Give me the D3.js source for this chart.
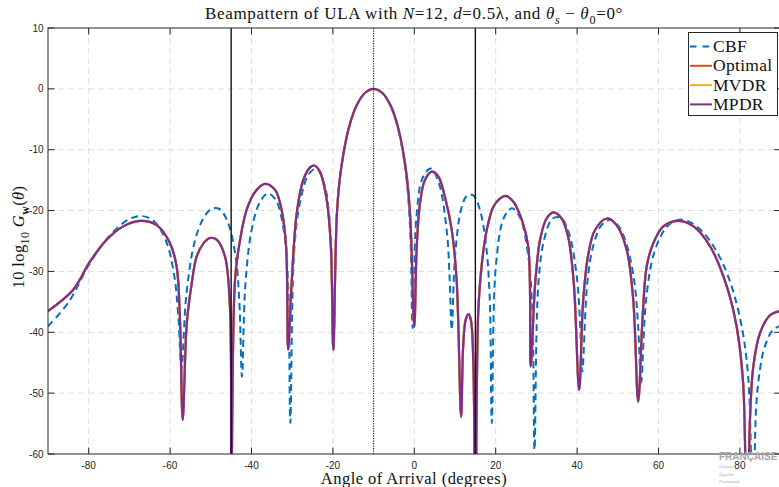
<!DOCTYPE html>
<html>
<head>
<meta charset="utf-8">
<script src="https://cdn.jsdelivr.net/npm/d3@7"></script>
<style>
  body { margin: 0; background: #fff; }
  svg { display: block; }
</style>
</head>
<body>
<script>
// CBF beampattern (degrees, dB)
const cbfAngles = [-90,-85,-80,-75,-70,-67,-64,-61,-59,-58,-57.2,
  -56,-54,-52,-50,-48,-46,-44,-43,-42.35,
  -41.5,-40,-38,-36,-34,-32,-31,-30.46,
  -29.5,-28,-26,-24,-22,-21,-20.4,-19.9,
  -19,-18,-16,-14,-12,-10,-8,-6,-4,-2,-1,-0.4,
  0.5,2,4,6,8,8.7,9.2,
  10,11.5,13,14.5,16,17.5,18.5,19.05,
  20,22,24,26,28,29,29.54,
  30.5,32,34,36,38,40,40.7,41.27,
  42.5,44,46,48,50,52,54,55,55.72,
  57,59,62,65,68,71,74,77,80,82,83.22,
  84,85,86,88,90]
const cbfDb = [-39.0,-35.1,-29.0,-24.2,-21.4,-20.9,-21.7,-25.0,-30.6,-37.2,-46.0,
  -33.8,-25.2,-21.5,-19.8,-19.7,-21.6,-27.1,-34.8,-47.3,
  -32.1,-23.3,-18.7,-17.2,-18.3,-23.6,-32.2,-54.9,
  -26.5,-18.4,-14.1,-13.1,-15.9,-20.2,-26.5,-43.0,
  -20.3,-13.2,-6.2,-2.5,-0.6,0,-0.6,-2.6,-6.5,-14.3,-23.5,-39.3,
  -21.3,-14.7,-13.1,-15.4,-23.5,-31.4,-39.6,
  -27.6,-19.8,-17.5,-17.5,-19.6,-24.9,-33.9,-54.9,
  -29.5,-21.2,-19.6,-21.2,-27.5,-36.5,-59.3,
  -31.8,-24.5,-21.3,-21.2,-23.7,-31.3,-38.2,-46.5,
  -31.9,-25.7,-22.4,-21.5,-22.4,-25.2,-31.4,-39.0,-48.3,
  -34.3,-26.8,-22.7,-21.5,-22.0,-23.6,-26.4,-30.6,-37.6,-47.0,-75,
  -52.2,-45.8,-42.6,-39.7,-38.9]

// adaptive beampattern (Optimal, MVDR and MPDR lie on top of each other)
const adaptAngles = [-90,-83.8,-79.7,-75.6,-71.5,-67.4,-63.3,-60.0,-58.4,-57.6,-56.9,
  -55.9,-54.7,-53.5,-51.8,-50.2,-48.5,-46.5,-45.3,-45.0,
  -44.05,-42.8,-41.2,-39.1,-36.7,-34.2,-32.6,-31.5,-31.0,
  -30.1,-28.9,-27.3,-25.6,-24.6,-23.2,-21.5,-20.5,-19.9,
  -19,-18,-16,-14,-12,-10,-8,-6,-4,-2,-1,0.0,
  0.6,1.4,2.6,4.3,5.9,7.5,9.2,10.4,11.5,
  12.0,12.6,13.3,13.9,14.5,15.0,
  15.7,16.6,17.8,19.4,21.1,22.5,24.3,26.4,28.0,28.6,
  29.7,30.9,32.5,34.2,36.2,37.8,39.2,40.5,
  41.5,42.8,44.4,47.3,49.7,52.2,53.8,55.0,
  56.1,57.1,58.7,61.2,64.9,68.6,72.7,76.8,79.2,80.8,81.7,
  82.5,83.3,84.9,87.4,90]
const adaptDb = [-36.5,-33.0,-28.4,-24.8,-22.6,-21.7,-22.4,-25.4,-29.2,-37.4,-54.4,
  -38.5,-32.0,-27.6,-25.4,-24.5,-24.8,-27.6,-35.8,-75,
  -31.4,-24.8,-19.9,-16.9,-15.6,-16.6,-19.9,-25.9,-42.9,
  -31.4,-20.5,-15.0,-12.9,-12.6,-13.6,-18.3,-25.9,-42.9,
  -20.3,-13.2,-6.2,-2.5,-0.6,0,-0.6,-2.5,-6.3,-13.6,-21.0,-39.1,
  -25.9,-18.8,-15.0,-13.6,-14.4,-17.7,-23.2,-31.4,-53.9,
  -42.4,-38.0,-37.0,-38.0,-45.0,-75,
  -36.9,-28.7,-23.2,-19.4,-18.0,-17.6,-18.5,-21.5,-25.9,-45.6,
  -32.0,-24.8,-21.3,-20.3,-21.3,-24.3,-32.0,-49.5,
  -34.7,-27.0,-23.2,-21.3,-22.4,-26.5,-34.7,-51.4,
  -37.4,-29.2,-25.4,-22.6,-21.7,-22.6,-25.9,-32.5,-39.1,-48.4,-75,
  -53.9,-45.6,-40.2,-37.2,-36.5]

const xTicks = [-80,-60,-40,-20,0,20,40,60,80]
const yTicks = [-60,-50,-40,-30,-20,-10,0,10]
const steerAngle = -10
const interferers = [-45, 15]

const seriesNames = ['CBF','Optimal','MVDR','MPDR']
const seriesColors = ['#0072BD','#D95319','#EDB120','#7E2F8E']

let width = 779;
let height = 487;
let mLeft = 48, mRight = 780.6, mTop = 28, mBottom = 454;

const serif = "'Liberation Serif','DejaVu Serif',serif"
const sans = "'Liberation Sans',Arial,sans-serif"

const svg = d3.select('body').append('svg')
  .attr('width', width).attr('height', height)

const x = d3.scaleLinear().domain([-90, 90]).range([mLeft, mRight])
const y = d3.scaleLinear().domain([-60, 10]).range([mBottom, mTop])

svg.append('defs').append('clipPath').attr('id','plotclip')
  .append('rect').attr('x', mLeft).attr('y', mTop)
  .attr('width', mRight - mLeft).attr('height', mBottom - mTop)

// grid
const grid = svg.append('g')
grid.selectAll('.gx').data(xTicks).enter().append('line')
  .attr('x1', d => x(d)).attr('x2', d => x(d)).attr('y1', mTop).attr('y2', mBottom)
  .attr('stroke','#dedede').attr('stroke-dasharray','6,4').attr('stroke-width',1)
grid.selectAll('.gy').data(yTicks.slice(1, -1)).enter().append('line')
  .attr('x1', mLeft).attr('x2', mRight).attr('y1', d => y(d)).attr('y2', d => y(d))
  .attr('stroke','#dedede').attr('stroke-dasharray','6,4').attr('stroke-width',1)

// curves
const line = d3.line()
  .x(d => x(d[0])).y(d => y(d[1]))
  .curve(d3.curveCatmullRom.alpha(0.5))

const cbfData = cbfAngles.map((a, i) => [a, cbfDb[i]])
const adaptData = adaptAngles.map((a, i) => [a, adaptDb[i]])

const plot = svg.append('g').attr('clip-path','url(#plotclip)')
plot.append('path').datum(cbfData).attr('d', line)
  .attr('fill','none').attr('stroke', seriesColors[0]).attr('stroke-width',2)
  .attr('stroke-dasharray','7,4.5')
seriesColors.slice(1).forEach((c) => {
  plot.append('path').datum(adaptData).attr('d', line)
    .attr('fill','none').attr('stroke', c).attr('stroke-width',2.2)
})

// steering and interference lines
plot.append('line').attr('x1', x(steerAngle)).attr('x2', x(steerAngle))
  .attr('y1', mTop).attr('y2', mBottom)
  .attr('stroke','#222').attr('stroke-width',1.1).attr('stroke-dasharray','1.2,1.3')
plot.selectAll('.intf').data(interferers).enter().append('line')
  .attr('x1', d => x(d)).attr('x2', d => x(d)).attr('y1', mTop).attr('y2', mBottom)
  .attr('stroke','#111').attr('stroke-width',1.4)

// axes box and ticks
const axc = '#262626'
svg.append('rect').attr('x', mLeft).attr('y', mTop)
  .attr('width', mRight - mLeft).attr('height', mBottom - mTop)
  .attr('fill','none').attr('stroke', axc).attr('stroke-width',1)

const tl = 6.5
svg.selectAll('.tb').data(xTicks).enter().append('path')
  .attr('d', d => `M${x(d)},${mBottom}V${mBottom - tl}M${x(d)},${mTop}V${mTop + tl}`)
  .attr('stroke', axc)
svg.selectAll('.tl').data(yTicks).enter().append('path')
  .attr('d', d => `M${mLeft},${y(d)}H${mLeft + tl}M${mRight},${y(d)}H${mRight - tl}`)
  .attr('stroke', axc)

svg.selectAll('.xl').data(xTicks).enter().append('text')
  .attr('x', d => x(d)).attr('y', 468.5).attr('text-anchor','middle')
  .attr('font-family', sans).attr('font-size', 10).attr('fill', axc)
  .text(d => d)
svg.selectAll('.yl').data(yTicks).enter().append('text')
  .attr('x', 43.5).attr('y', d => y(d) + 3.5).attr('text-anchor','end')
  .attr('font-family', sans).attr('font-size', 10).attr('fill', axc)
  .text(d => d)

// text with italic / subscript runs
const addRuns = (sel, runs, size) => {
  let shifted = 0
  runs.forEach(r => {
    let t = sel.append('tspan').text(r.t)
    let want = r.sub ? size * 0.28 : 0
    if (want !== shifted) { t.attr('dy', want - shifted); shifted = want }
    if (r.sub) t.attr('font-size', size * 0.72)
    if (r.i) t.attr('font-style','italic')
    if (r.b) t.attr('font-weight','bold')
  })
}

const title = svg.append('text').attr('x', 414).attr('y', 19)
  .attr('text-anchor','middle').attr('font-family', serif).attr('font-size', 17)
  .attr('letter-spacing', 0.65).attr('fill','#111')
addRuns(title, [
  {t:'Beampattern of ULA with '}, {t:'N', i:1}, {t:'=12, '}, {t:'d', i:1},
  {t:'=0.5λ, and '}, {t:'θ', i:1}, {t:'s', i:1, sub:1}, {t:' − '},
  {t:'θ', i:1}, {t:'0', sub:1}, {t:'=0°'}
], 17)

svg.append('text').attr('x', 414).attr('y', 484)
  .attr('text-anchor','middle').attr('font-family', serif).attr('font-size', 16.5)
  .attr('letter-spacing', 0.45).attr('fill','#111')
  .text('Angle of Arrival (degrees)')

const ylab = svg.append('text').attr('transform','translate(24,237) rotate(-90)')
  .attr('text-anchor','middle').attr('font-family', serif).attr('font-size', 16.5)
  .attr('letter-spacing', 0.4).attr('fill','#111')
addRuns(ylab, [
  {t:'10 log'}, {t:'10', sub:1}, {t:' '}, {t:'G', i:1}, {t:'w', b:1, sub:1},
  {t:'('}, {t:'θ', i:1}, {t:')'}
], 16.5)

// legend
const lg = svg.append('g')
lg.append('rect').attr('x', 688.5).attr('y', 32.5).attr('width', 89).attr('height', 83)
  .attr('fill','#fff').attr('stroke', axc).attr('stroke-width',1)
seriesNames.forEach((name, i) => {
  let cy = 46.5 + i * 19.3
  lg.append('line').attr('x1', 690).attr('x2', 712).attr('y1', cy).attr('y2', cy)
    .attr('stroke', seriesColors[i]).attr('stroke-width', 2)
    .attr('stroke-dasharray', i === 0 ? '6.5,6' : null)
  lg.append('text').attr('x', 713).attr('y', cy + 5.5)
    .attr('font-family', serif).attr('font-size', 17.5).attr('letter-spacing', 0.3)
    .attr('fill','#111').text(name)
})

// watermark in the corner
const wm = svg.append('g').attr('fill','#a8a8a8')
wm.append('text').attr('x', 719).attr('y', 459.5).attr('font-family', sans)
  .attr('font-weight','bold').attr('font-size', 10).text('FRANÇAISE')
;['Liberté','Égalité','Fraternité'].forEach((w, i) => {
  wm.append('text').attr('x', 719).attr('y', 468 + i * 7.5).attr('font-family', serif)
    .attr('font-style','italic').attr('font-size', 5).text(w)
})
</script>
</body>
</html>
